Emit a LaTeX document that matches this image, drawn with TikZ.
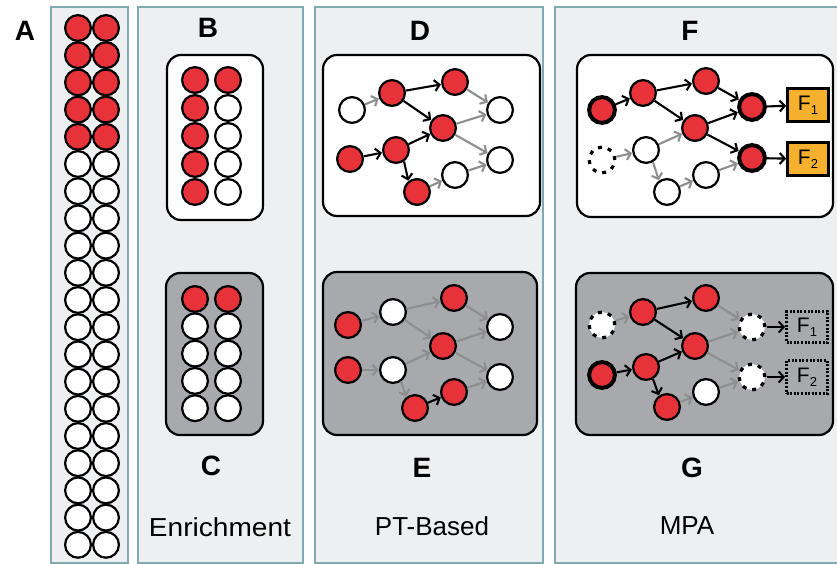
\documentclass[tikz,border=0pt]{standalone}
\usepackage{fontspec}
\setmainfont{Liberation Sans}
\newfontfamily\widefont[FakeStretch=1.08]{Liberation Sans}
\usetikzlibrary{arrows.meta}
\definecolor{pbg}{HTML}{EDEFF1}
\definecolor{pbd}{HTML}{7FAAB2}
\definecolor{myred}{HTML}{E8323A}
\definecolor{boxgray}{HTML}{A7A9AC}
\definecolor{agray}{HTML}{8E8E8E}
\definecolor{forange}{HTML}{F5B12E}
\begin{document}
\begin{tikzpicture}[x=1pt,y=-1pt,
 panel/.style={fill=pbg,draw=pbd,line width=2pt},
 wbox/.style={fill=white,draw=black,line width=2.2pt,rounded corners=14pt},
 gbox/.style={fill=boxgray,draw=black,line width=2.2pt,rounded corners=14pt},
 nd/.style={circle,draw=black,line width=2.2pt,minimum size=25.8pt,inner sep=0pt},
 rn/.style={nd,fill=myred},
 wn/.style={nd,fill=white},
 tk/.style={line width=4pt},
 dn/.style={nd,fill=white,line width=3.2pt,dash pattern=on 4pt off 6.1pt},
 ba/.style={draw=black,line width=2.1pt,-{Straight Barb[length=5pt,width=11pt]},shorten >=0.3pt},
 ga/.style={ba,draw=agray},
 lab/.style={font=\fontsize{28}{32}\selectfont\bfseries},
 txt/.style={font=\fontsize{26}{30}\selectfont},
 fbox/.style={draw=black,line width=2.2pt,fill=forange,minimum width=41pt,minimum height=33pt,inner sep=0pt,font=\fontsize{21}{24}\selectfont},
 fdbox/.style={fbox,fill=none,dash pattern=on 2pt off 1.6pt}
]
\useasboundingbox (0,0) rectangle (837,564);
\newcommand{\Fsub}[1]{F\raisebox{-0.4ex}{\fontsize{13}{13}\selectfont #1}}
% panels
\draw[panel] (51,7) rectangle (128,563);
\draw[panel] (138,7) rectangle (303,563);
\draw[panel] (315,7) rectangle (543,563);
\draw[panel] (555,7) rectangle (845,563);
% labels
\node[lab] (lA) at (25,31) {A};
\node[lab] (lB) at (208,28) {B};
\node[lab] (lC) at (211,466) {C};
\node[lab] (lD) at (420,31) {D};
\node[lab] (lE) at (422,468) {E};
\node[lab] (lF) at (690,31) {F};
\node[lab] (lG) at (692,468) {G};
\node[txt,font=\widefont\fontsize{26}{30}\selectfont] (tC) at (220,527) {Enrichment};
\node[txt] (tE) at (432,526) {PT-Based};
\node[txt] (tG) at (687,526) {MPA};
% panel A
\foreach \i in {0,...,19}{
  \pgfmathsetmacro\yy{28+27.2*\i}
  \ifnum\i<5
    \node[rn] (aL\i) at (78,\yy) {};
    \node[rn] (aR\i) at (106,\yy) {};
  \else
    \node[wn] (aL\i) at (78,\yy) {};
    \node[wn] (aR\i) at (106,\yy) {};
  \fi
}
% panel B
\draw[wbox] (167,55) rectangle (263,220);
\foreach \i in {0,...,4}{
  \pgfmathsetmacro\yy{80+28*\i}
  \node[rn] (bL\i) at (195,\yy) {};
  \ifnum\i<1
    \node[rn] (bR\i) at (228,\yy) {};
  \else
    \node[wn] (bR\i) at (228,\yy) {};
  \fi
}
% panel C
\draw[gbox] (166,273) rectangle (263,435);
\foreach \i in {0,...,4}{
  \pgfmathsetmacro\yy{299+27.3*\i}
  \ifnum\i<1
    \node[rn] (cL\i) at (195,\yy) {};
    \node[rn] (cR\i) at (228,\yy) {};
  \else
    \node[wn] (cL\i) at (195,\yy) {};
    \node[wn] (cR\i) at (228,\yy) {};
  \fi
}
% panel D
\draw[wbox] (323,55) rectangle (540,216);
\node[wn] (d1) at (352,110) {};
\node[rn] (d2) at (392,93) {};
\node[rn] (d3) at (455,82) {};
\node[rn] (d4) at (443,128) {};
\node[wn] (d5) at (500,110) {};
\node[rn] (d6) at (350,159) {};
\node[rn] (d7) at (396,150) {};
\node[rn] (d8) at (417,192) {};
\node[wn] (d9) at (455,175) {};
\node[wn] (d10) at (500,160) {};
\draw[ga] (d1) -- (d2);
\draw[ba] (d2) -- (d3);
\draw[ba] (d2) -- (d4);
\draw[ga] (d3) -- (d5);
\draw[ga] (d4) -- (d5);
\draw[ga] (d4) -- (d10);
\draw[ba] (d6) -- (d7);
\draw[ba] (d7) -- (d4);
\draw[ba] (d7.-55) -- (d8.128);
\draw[ga] (d8) -- (d9);
\draw[ga] (d9) -- (d10);
% panel E
\draw[gbox] (323,272) rectangle (537,435);
\node[rn] (e1) at (348,325) {};
\node[wn] (e2) at (393,312) {};
\node[rn] (e3) at (454,298) {};
\node[rn] (e4) at (443,346) {};
\node[wn] (e5) at (500,327) {};
\node[rn] (e6) at (348,370) {};
\node[wn] (e7) at (393,370) {};
\node[rn] (e8) at (415,408) {};
\node[rn] (e9) at (454,392) {};
\node[wn] (e10) at (500,377) {};
\draw[ga] (e1) -- (e2);
\draw[ga] (e2) -- (e3);
\draw[ga] (e2) -- (e4);
\draw[ga] (e3) -- (e5);
\draw[ga] (e4) -- (e5);
\draw[ga] (e4) -- (e10);
\draw[ga] (e6) -- (e7);
\draw[ga] (e7) -- (e4);
\draw[ga] (e7.-55) -- (e8.128);
\draw[ba] (e8) -- (e9);
\draw[ga] (e9) -- (e10);
% panel F
\draw[wbox] (577,55) rectangle (833,217);
\node[rn,tk] (f1) at (602,110) {};
\node[rn] (f2) at (643,93) {};
\node[rn] (f3) at (706,81) {};
\node[rn] (f4) at (695,128) {};
\node[rn,tk] (f5) at (752,107) {};
\node[dn] (f6) at (602,160) {};
\node[wn] (f7) at (646,150) {};
\node[wn] (f8) at (667,192) {};
\node[wn] (f9) at (706,175) {};
\node[rn,tk] (f10) at (752,158) {};
\node[fbox] (F1) at (808,105) {\Fsub{1}};
\node[fbox] (F2) at (808,159) {\Fsub{2}};
\draw[ba] (f1) -- (f2);
\draw[ba] (f2) -- (f3);
\draw[ba] (f2) -- (f4);
\draw[ba] (f3) -- (f5);
\draw[ba] (f4) -- (f5);
\draw[ba] (f4) -- (f10);
\draw[ba] (f5) -- (F1);
\draw[ba] (f10) -- (F2);
\draw[ga] (f6) -- (f7);
\draw[ga] (f7) -- (f4);
\draw[ga] (f7.-60) -- (f8.125);
\draw[ga] (f8) -- (f9);
\draw[ga] (f9) -- (f10);
% panel G
\draw[gbox] (576,273) rectangle (833,435);
\node[dn] (g1) at (602,325) {};
\node[rn] (g2) at (643,312) {};
\node[rn] (g3) at (706,298) {};
\node[rn] (g4) at (695,346) {};
\node[dn] (g5) at (752,327) {};
\node[rn,tk] (g6) at (602,375) {};
\node[rn] (g7) at (646,367) {};
\node[rn] (g8) at (667,407) {};
\node[wn] (g9) at (706,392) {};
\node[dn] (g10) at (752,377) {};
\node[fdbox,minimum height=31pt] (G1) at (807,327) {\Fsub{1}};
\node[fdbox] (G2) at (807,377) {\Fsub{2}};
\draw[ga] (g1) -- (g2);
\draw[ba] (g2) -- (g3);
\draw[ba] (g2) -- (g4);
\draw[ga] (g3) -- (g5);
\draw[ga] (g4) -- (g5);
\draw[ga] (g4) -- (g10);
\draw[ba] (g5) -- (G1);
\draw[ba] (g10) -- (G2);
\draw[ba] (g6) -- (g7);
\draw[ba] (g7) -- (g4);
\draw[ba] (g7.-60) -- (g8.125);
\draw[ga] (g8) -- (g9);
\draw[ga] (g9) -- (g10);
\end{tikzpicture}
\end{document}
